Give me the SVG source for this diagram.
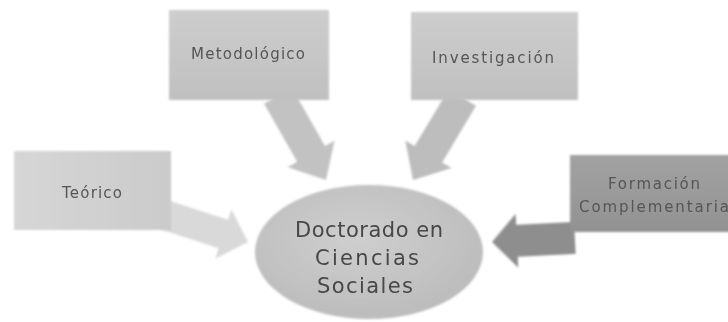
<svg xmlns="http://www.w3.org/2000/svg" width="728" height="322" viewBox="0 0 728 322">
  <defs>
    <filter id="soft" x="-10%" y="-10%" width="120%" height="120%">
      <feGaussianBlur stdDeviation="1.2"/>
    </filter>
    <linearGradient id="gBox" x1="0" y1="0" x2="0" y2="1">
      <stop offset="0" stop-color="#cdcdcd"/>
      <stop offset="1" stop-color="#c0c0c0"/>
    </linearGradient>
    <linearGradient id="gTeo" x1="0" y1="0" x2="1" y2="0">
      <stop offset="0" stop-color="#d6d6d6"/>
      <stop offset="1" stop-color="#cbcbcb"/>
    </linearGradient>
    <linearGradient id="gForm" x1="0" y1="0" x2="0" y2="1">
      <stop offset="0" stop-color="#a2a2a2"/>
      <stop offset="1" stop-color="#929292"/>
    </linearGradient>
    <radialGradient id="gEll" cx="0.45" cy="0.4" r="0.6">
      <stop offset="0" stop-color="#cfcfcf"/>
      <stop offset="1" stop-color="#bcbcbc"/>
    </radialGradient>
  </defs>
  <style>
    .lbl { font-family: "DejaVu Sans", "Liberation Sans", sans-serif; font-size: 15px; fill: #555555; text-anchor: middle; }
    .big { font-family: "DejaVu Sans", "Liberation Sans", sans-serif; font-size: 21px; fill: #474747; text-anchor: middle; }
  </style>
  <rect width="728" height="322" fill="#ffffff"/>

  <g id="connectors" filter="url(#soft)">
    <g transform="translate(326,180) rotate(60.3)">
      <polygon points="-97,-16 -30,-16 -30,-27 0,0 -30,27 -30,16 -97,16" fill="#c2c2c2"/>
    </g>
    <g transform="translate(413,180) rotate(120.9)">
      <polygon points="-96,-16 -30,-16 -30,-27 0,0 -30,27 -30,16 -96,16" fill="#bdbdbd"/>
    </g>
    <g transform="translate(248,242) rotate(18)">
      <polygon points="-87,-15 -26,-15 -26,-26 0,0 -26,26 -26,15 -87,15" fill="#d9d9d9"/>
    </g>
    <g transform="translate(492,242) rotate(177.2)">
      <polygon points="-83,-16 -25,-16 -25,-27 0,0 -25,27 -25,16 -83,16" fill="#8e8e8e"/>
    </g>
  </g>

  <g id="metodologico">
    <rect x="169" y="10" width="160" height="90" fill="url(#gBox)" filter="url(#soft)"/>
    <text class="lbl" x="248" y="59" textLength="114" lengthAdjust="spacing">Metodológico</text>
  </g>

  <g id="investigacion">
    <rect x="411" y="12" width="167" height="88" fill="url(#gBox)" filter="url(#soft)"/>
    <text class="lbl" x="493" y="63" textLength="122" lengthAdjust="spacing">Investigación</text>
  </g>

  <g id="teorico">
    <rect x="14" y="151" width="157" height="79" fill="url(#gTeo)" filter="url(#soft)"/>
    <text class="lbl" x="92" y="198" textLength="60" lengthAdjust="spacing">Teórico</text>
  </g>

  <g id="formacion">
    <rect x="570" y="155" width="166" height="77" fill="url(#gForm)" filter="url(#soft)"/>
    <text class="lbl" x="654" y="189" textLength="92" lengthAdjust="spacing">Formación</text>
    <text class="lbl" x="654" y="212" textLength="150" lengthAdjust="spacing">Complementaria</text>
  </g>

  <g id="doctorado">
    <ellipse cx="369" cy="252" rx="114" ry="67" fill="url(#gEll)" filter="url(#soft)"/>
    <text class="big" x="369" y="237" textLength="148" lengthAdjust="spacing">Doctorado en</text>
    <text class="big" x="367" y="265" textLength="104" lengthAdjust="spacing">Ciencias</text>
    <text class="big" x="365" y="293" textLength="96" lengthAdjust="spacing">Sociales</text>
  </g>
</svg>
